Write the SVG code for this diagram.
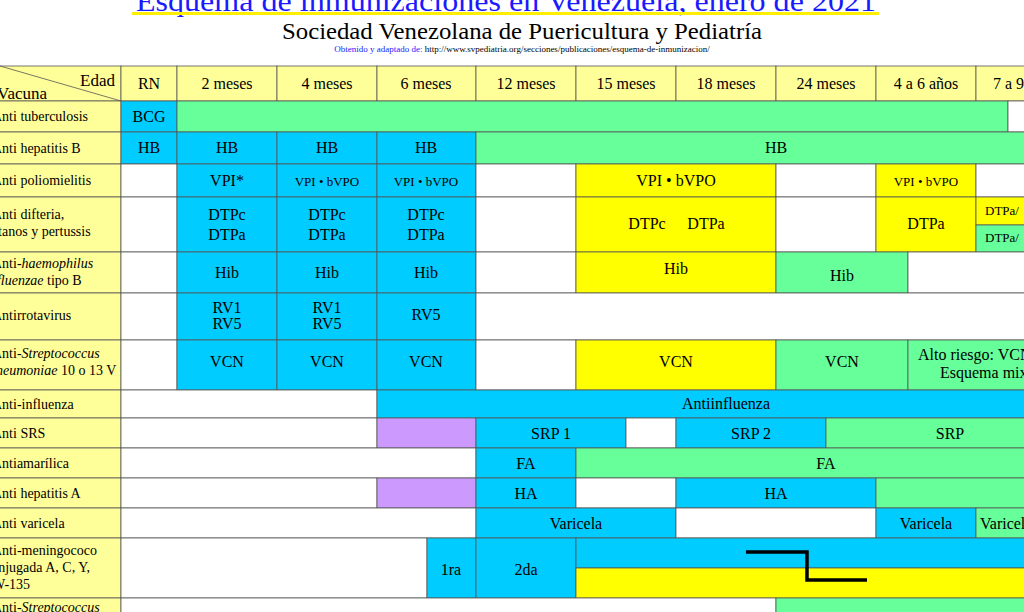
<svg xmlns="http://www.w3.org/2000/svg" width="1024" height="612" viewBox="0 0 1024 612">
<style>
text{font-family:"Liberation Serif",serif;font-size:16px;fill:#000}
.c{text-anchor:middle}
.l{font-size:14px}
.s{font-size:13px}
rect{stroke:#555;stroke-width:0.8}
.h{fill:#ffff99}.b{fill:#00ccff}.g{fill:#66ff99}.y{fill:#ffff00}.w{fill:#fff}.p{fill:#cc99ff}
</style>
<rect x="0" y="0" width="1024" height="612" style="fill:#fff;stroke:none"/>
<g id="title">
<text x="506" y="11" class="c" style="font-size:29px;fill:#1a1aff" textLength="740" lengthAdjust="spacingAndGlyphs">Esquema de inmunizaciones en Venezuela, enero de 2021</text>
<rect x="132" y="12" width="747" height="3" style="fill:#ffee00;stroke:none"/>
<text x="522" y="39" class="c" style="font-size:23px" textLength="480" lengthAdjust="spacingAndGlyphs">Sociedad Venezolana de Puericultura y Pediatría</text>
<text x="522" y="52" class="c" style="font-size:9px"><tspan fill="#1a1aff">Obtenido y adaptado de:</tspan> http://www.svpediatria.org/secciones/publicaciones/esquema-de-inmunizacion/</text>
</g>
<g id="header">
<rect class="h" x="-2" y="66" width="123" height="35"/>
<line x1="0" y1="66" x2="121" y2="101" stroke="#555" stroke-width="0.8"/>
<text x="115" y="86" style="font-size:17px;text-anchor:end">Edad</text>
<text x="-3" y="99" style="font-size:17px">Vacuna</text>
<rect class="h" x="121" y="66" width="56" height="35"/><text x="149" y="89" class="c">RN</text>
<rect class="h" x="177" y="66" width="100" height="35"/><text x="227" y="89" class="c">2 meses</text>
<rect class="h" x="277" y="66" width="100" height="35"/><text x="327" y="89" class="c">4 meses</text>
<rect class="h" x="377" y="66" width="99" height="35"/><text x="426" y="89" class="c">6 meses</text>
<rect class="h" x="476" y="66" width="100" height="35"/><text x="526" y="89" class="c">12 meses</text>
<rect class="h" x="576" y="66" width="100" height="35"/><text x="626" y="89" class="c">15 meses</text>
<rect class="h" x="676" y="66" width="100" height="35"/><text x="726" y="89" class="c">18 meses</text>
<rect class="h" x="776" y="66" width="100" height="35"/><text x="826" y="89" class="c">24 meses</text>
<rect class="h" x="876" y="66" width="100" height="35"/><text x="926" y="89" class="c">4 a 6 años</text>
<rect class="h" x="976" y="66" width="60" height="35"/><text x="993" y="89">7 a 9</text>
</g>
<g id="labels" class="l">
<rect class="h" x="-2" y="101" width="123" height="31"/><text class="l" x="-8" y="121">Anti tuberculosis</text>
<rect class="h" x="-2" y="132" width="123" height="32"/><text class="l" x="-8" y="153">Anti hepatitis B</text>
<rect class="h" x="-2" y="164" width="123" height="33"/><text class="l" x="-8" y="185">Anti poliomielitis</text>
<rect class="h" x="-2" y="197" width="123" height="55"/><text class="l" x="-8" y="219">Anti difteria,</text><text class="l" x="-12" y="236">tétanos y pertussis</text>
<rect class="h" x="-2" y="252" width="123" height="41"/><text class="l" x="-8" y="268">Anti-<tspan font-style="italic">haemophilus</tspan></text><text class="l" x="-14" y="285"><tspan font-style="italic">influenzae</tspan> tipo B</text>
<rect class="h" x="-2" y="293" width="123" height="47"/><text class="l" x="-8" y="320">Antirrotavirus</text>
<rect class="h" x="-2" y="340" width="123" height="50"/><text class="l" x="-8" y="358">Anti-<tspan font-style="italic">Streptococcus</tspan></text><text class="l" x="-11" y="375"><tspan font-style="italic">pneumoniae</tspan> 10 o 13 V</text>
<rect class="h" x="-2" y="390" width="123" height="28"/><text class="l" x="-8" y="409">Anti-influenza</text>
<rect class="h" x="-2" y="418" width="123" height="30"/><text class="l" x="-8" y="438">Anti SRS</text>
<rect class="h" x="-2" y="448" width="123" height="30"/><text class="l" x="-8" y="468">Antiamarílica</text>
<rect class="h" x="-2" y="478" width="123" height="30"/><text class="l" x="-8" y="498">Anti hepatitis A</text>
<rect class="h" x="-2" y="508" width="123" height="30"/><text class="l" x="-8" y="528">Anti varicela</text>
<rect class="h" x="-2" y="538" width="123" height="60"/><text class="l" x="-8" y="555">Anti-meningococo</text><text class="l" x="-15" y="572">conjugada A, C, Y,</text><text class="l" x="-8" y="589">W-135</text>
<rect class="h" x="-2" y="598" width="123" height="20"/><text class="l" x="-8" y="612">Anti-<tspan font-style="italic">Streptococcus</tspan></text>
</g>
<g id="cells">
<rect class="b" x="121" y="101" width="56" height="31"/><text x="149" y="122" class="c">BCG</text>
<rect class="g" x="177" y="101" width="831" height="31"/><rect class="w" x="1008" y="101" width="30" height="31"/>
<rect class="b" x="121" y="132" width="56" height="32"/><text x="149" y="153" class="c">HB</text>
<rect class="b" x="177" y="132" width="100" height="32"/><text x="227" y="153" class="c">HB</text>
<rect class="b" x="277" y="132" width="100" height="32"/><text x="327" y="153" class="c">HB</text>
<rect class="b" x="377" y="132" width="99" height="32"/><text x="426" y="153" class="c">HB</text>
<rect class="g" x="476" y="132" width="560" height="32"/><text x="776" y="153" class="c">HB</text>
<rect class="w" x="121" y="164" width="56" height="33"/>
<rect class="b" x="177" y="164" width="100" height="33"/><text x="227" y="186" class="c">VPI*</text>
<rect class="b" x="277" y="164" width="100" height="33"/><text x="327" y="186" class="c s">VPI • bVPO</text>
<rect class="b" x="377" y="164" width="99" height="33"/><text x="426" y="186" class="c s">VPI • bVPO</text>
<rect class="w" x="476" y="164" width="100" height="33"/>
<rect class="y" x="576" y="164" width="200" height="33"/><text x="676" y="186" class="c">VPI • bVPO</text>
<rect class="w" x="776" y="164" width="100" height="33"/>
<rect class="y" x="876" y="164" width="100" height="33"/><text x="926" y="186" class="c s">VPI • bVPO</text>
<rect class="w" x="976" y="164" width="60" height="33"/>
<rect class="w" x="121" y="197" width="56" height="55"/>
<rect class="b" x="177" y="197" width="100" height="55"/><text x="227" y="220" class="c">DTPc</text><text x="227" y="240" class="c">DTPa</text>
<rect class="b" x="277" y="197" width="100" height="55"/><text x="327" y="220" class="c">DTPc</text><text x="327" y="240" class="c">DTPa</text>
<rect class="b" x="377" y="197" width="99" height="55"/><text x="426" y="220" class="c">DTPc</text><text x="426" y="240" class="c">DTPa</text>
<rect class="w" x="476" y="197" width="100" height="55"/>
<rect class="y" x="576" y="197" width="200" height="55"/><text x="647" y="229" class="c">DTPc</text><text x="706" y="229" class="c">DTPa</text>
<rect class="w" x="776" y="197" width="100" height="55"/>
<rect class="y" x="876" y="197" width="100" height="55"/><text x="926" y="229" class="c">DTPa</text>
<rect class="y" x="976" y="197" width="60" height="28"/><text x="985" y="215" class="s">DTPa/</text>
<rect class="g" x="976" y="225" width="60" height="27"/><text x="985" y="242" class="s">DTPa/</text>
<rect class="w" x="121" y="252" width="56" height="41"/>
<rect class="b" x="177" y="252" width="100" height="41"/><text x="227" y="278" class="c">Hib</text>
<rect class="b" x="277" y="252" width="100" height="41"/><text x="327" y="278" class="c">Hib</text>
<rect class="b" x="377" y="252" width="99" height="41"/><text x="426" y="278" class="c">Hib</text>
<rect class="w" x="476" y="252" width="100" height="41"/>
<rect class="y" x="576" y="252" width="200" height="41"/><text x="676" y="274" class="c">Hib</text>
<rect class="g" x="776" y="252" width="132" height="41"/><text x="842" y="281" class="c">Hib</text>
<rect class="w" x="908" y="252" width="130" height="41"/>
<rect class="w" x="121" y="293" width="56" height="47"/>
<rect class="b" x="177" y="293" width="100" height="47"/><text x="227" y="313" class="c">RV1</text><text x="227" y="329" class="c">RV5</text>
<rect class="b" x="277" y="293" width="100" height="47"/><text x="327" y="313" class="c">RV1</text><text x="327" y="329" class="c">RV5</text>
<rect class="b" x="377" y="293" width="99" height="47"/><text x="426" y="320" class="c">RV5</text>
<rect class="w" x="476" y="293" width="560" height="47"/>
<rect class="w" x="121" y="340" width="56" height="50"/>
<rect class="b" x="177" y="340" width="100" height="50"/><text x="227" y="367" class="c">VCN</text>
<rect class="b" x="277" y="340" width="100" height="50"/><text x="327" y="367" class="c">VCN</text>
<rect class="b" x="377" y="340" width="99" height="50"/><text x="426" y="367" class="c">VCN</text>
<rect class="w" x="476" y="340" width="100" height="50"/>
<rect class="y" x="576" y="340" width="200" height="50"/><text x="676" y="367" class="c">VCN</text>
<rect class="g" x="776" y="340" width="132" height="50"/><text x="842" y="367" class="c">VCN</text>
<rect class="g" x="908" y="340" width="130" height="50"/><text x="918" y="360">Alto riesgo: VCN</text><text x="940" y="378">Esquema mixto</text>
<rect class="w" x="121" y="390" width="256" height="28"/>
<rect class="b" x="377" y="390" width="661" height="28"/><text x="726" y="409" class="c">Antiinfluenza</text>
<rect class="w" x="121" y="418" width="256" height="30"/>
<rect class="p" x="377" y="418" width="99" height="30"/>
<rect class="b" x="476" y="418" width="150" height="30"/><text x="551" y="439" class="c">SRP 1</text>
<rect class="w" x="626" y="418" width="50" height="30"/>
<rect class="b" x="676" y="418" width="150" height="30"/><text x="751" y="439" class="c">SRP 2</text>
<rect class="g" x="826" y="418" width="212" height="30"/><text x="950" y="439" class="c">SRP</text>
<rect class="w" x="121" y="448" width="355" height="30"/>
<rect class="b" x="476" y="448" width="100" height="30"/><text x="526" y="469" class="c">FA</text>
<rect class="g" x="576" y="448" width="462" height="30"/><text x="826" y="469" class="c">FA</text>
<rect class="w" x="121" y="478" width="256" height="30"/>
<rect class="p" x="377" y="478" width="99" height="30"/>
<rect class="b" x="476" y="478" width="100" height="30"/><text x="526" y="499" class="c">HA</text>
<rect class="w" x="576" y="478" width="100" height="30"/>
<rect class="b" x="676" y="478" width="200" height="30"/><text x="776" y="499" class="c">HA</text>
<rect class="g" x="876" y="478" width="162" height="30"/>
<rect class="w" x="121" y="508" width="355" height="30"/>
<rect class="b" x="476" y="508" width="200" height="30"/><text x="576" y="529" class="c">Varicela</text>
<rect class="w" x="676" y="508" width="200" height="30"/>
<rect class="b" x="876" y="508" width="100" height="30"/><text x="926" y="529" class="c">Varicela</text>
<rect class="g" x="976" y="508" width="62" height="30"/><text x="980" y="529">Varicela</text>
<rect class="w" x="121" y="538" width="306" height="60"/>
<rect class="b" x="427" y="538" width="49" height="60"/><text x="451" y="575" class="c">1ra</text>
<rect class="b" x="476" y="538" width="100" height="60"/><text x="526" y="575" class="c">2da</text>
<rect class="b" x="576" y="538" width="462" height="30"/>
<rect class="y" x="576" y="568" width="462" height="30"/>
<rect class="w" x="121" y="598" width="655" height="20"/>
<rect class="g" x="776" y="598" width="262" height="20"/>
</g>
<g id="connectors">
<polyline points="746,552 807,552 807,580 867,580" fill="none" stroke="#000" stroke-width="3.5"/>
</g>
</svg>
